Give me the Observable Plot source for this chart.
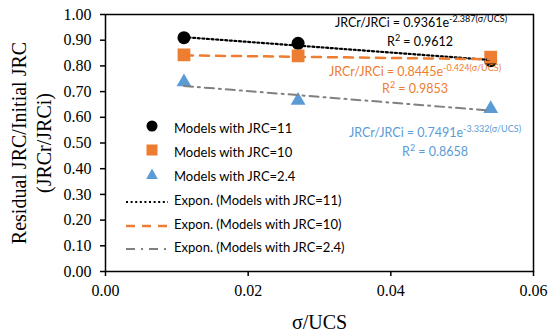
<!DOCTYPE html>
<html>
<head>
<meta charset="utf-8">
<script src="https://cdn.jsdelivr.net/npm/d3@7"></script>
<script src="https://cdn.jsdelivr.net/npm/@observablehq/plot@0.6"></script>
<style>
  body { margin: 0; background: #fff; }
  #wrap { position: relative; width: 551px; height: 332px; overflow: hidden; }
  .ann { position: absolute; transform: translate(-50%, -50%); white-space: nowrap; font-family: Lato, "Open Sans", sans-serif; font-size: 12.5px; line-height: 1; }
  .ann sup { font-size: 9px; vertical-align: 5px; line-height: 0; }
  .leg { position: absolute; white-space: nowrap; font-family: Lato, "Open Sans", sans-serif; font-size: 13px; color: #000; line-height: 1; transform: translateY(-50%); }
  .legsym { position: absolute; transform: translateY(-50%); }
</style>
</head>
<body>
<div id="wrap"></div>
<script>
// ---- data ----
const xTicks = [0, 0.02, 0.04, 0.06];
const yTicks = [0, 0.1, 0.2, 0.3, 0.4, 0.5, 0.6, 0.7, 0.8, 0.9, 1.0];
const sigmaUCS = [0.011, 0.027, 0.054];
const jrc11 = [0.91, 0.888, 0.82];
const jrc10 = [0.843, 0.839, 0.834];
const jrc24 = [0.737, 0.665, 0.633];
const trendX = [0.011, 0.054];
const trend11 = [0.912, 0.823];
const trend10 = [0.841, 0.826];
const trend24 = [0.722, 0.626];
const seriesNames = ["Models with JRC=11", "Models with JRC=10", "Models with JRC=2.4"];
const trendNames = ["Expon. (Models with JRC=11)", "Expon. (Models with JRC=10)", "Expon. (Models with JRC=2.4)"];
const fitA = ["0.9361", "0.8445", "0.7491"];
const fitB = ["-2.387", "-0.424", "-3.332"];
const fitR2 = ["0.9612", "0.9853", "0.8658"];
const xLabel = "σ/UCS";
const yLabel = "Residual JRC/Initial JRC\n(JRCr/JRCi)";

// ---- styles ----
const SERIF = "'Liberation Serif', 'Times New Roman', serif";
const BLACK = "#000000", ORANGE = "#ED7D31", BLUE = "#5B9BD5", GRAY = "#808080";
const fmt = d3.format(".2f");

const pts = (ys) => sigmaUCS.map((x, i) => ({x, y: ys[i]}));
const tr = (ys) => trendX.map((x, i) => ({x, y: ys[i]}));

const chart = Plot.plot({
  width: 551,
  height: 332,
  marginLeft: 105,
  marginRight: 18,
  marginTop: 14,
  marginBottom: 61,
  style: {fontFamily: SERIF, fontSize: "16px", background: "white", color: "black"},
  x: {domain: [0, 0.06]},
  y: {domain: [0, 1]},
  marks: [
    Plot.axisX({ticks: xTicks, tickFormat: fmt, tickSize: 5, tickPadding: 8, label: null, fontSize: 16, fontFamily: SERIF, strokeWidth: 1.5}),
    Plot.axisY({ticks: yTicks, tickFormat: fmt, tickSize: 5, tickPadding: 9, label: null, fontSize: 16, fontFamily: SERIF, strokeWidth: 1.5}),
    Plot.frame({stroke: BLACK, strokeWidth: 1.5}),
    Plot.text([xLabel], {frameAnchor: "bottom", lineAnchor: "middle", dy: 51, text: d => d, fontSize: 20, fontFamily: SERIF}),
    Plot.text([yLabel], {frameAnchor: "left", textAnchor: "middle", lineAnchor: "middle", rotate: -90, dx: -75, text: d => d, fontSize: 20, lineHeight: 1.25, fontFamily: SERIF}),
    Plot.dot(pts(jrc11), {x: "x", y: "y", symbol: "circle", r: 6.5, fill: BLACK}),
    Plot.dot(pts(jrc10), {x: "x", y: "y", symbol: "square", r: 7.2, fill: ORANGE}),
    Plot.dot(pts(jrc24), {x: "x", y: "y", symbol: "triangle", r: 5.5, fill: BLUE}),
    Plot.line(tr(trend11), {x: "x", y: "y", stroke: BLACK, strokeWidth: 2.2, strokeDasharray: "2,2.6"}),
    Plot.line(tr(trend10), {x: "x", y: "y", stroke: ORANGE, strokeWidth: 2.5, strokeDasharray: "9,7"}),
    Plot.line(tr(trend24), {x: "x", y: "y", stroke: GRAY, strokeWidth: 2, strokeDasharray: "9,5,2,5"})
  ]
});
const wrap = document.getElementById("wrap");
wrap.appendChild(chart);

// ---- annotations (fitted equations) ----
const annColors = [BLACK, ORANGE, BLUE];
const annPos = [[421, 23, 420, 42], [415, 72, 415, 89], [435, 133, 435, 152]];
fitA.forEach((a, i) => {
  const [ex, ey, rx, ry] = annPos[i];
  const e = document.createElement("div");
  e.className = "ann";
  e.style.left = ex + "px"; e.style.top = ey + "px"; e.style.color = annColors[i];
  e.innerHTML = `JRCr/JRCi = ${a}e<sup>${fitB[i]}(σ/UCS)</sup>`;
  wrap.appendChild(e);
  const r = document.createElement("div");
  r.className = "ann";
  r.style.left = rx + "px"; r.style.top = ry + "px"; r.style.color = annColors[i];
  r.innerHTML = `R<sup>2</sup> = ${fitR2[i]}`;
  wrap.appendChild(r);
});

// ---- legend ----
const legRows = [128, 152, 176, 200, 223.5, 247];
const symSvgs = [
  `<svg width="14" height="14"><circle cx="7" cy="7" r="5.5" fill="${BLACK}"/></svg>`,
  `<svg width="14" height="14"><rect x="1.5" y="1.5" width="11" height="11" fill="${ORANGE}"/></svg>`,
  `<svg width="14" height="14"><path d="M7,1.5 L12.8,12 L1.2,12 Z" fill="${BLUE}"/></svg>`
];
const lineSvgs = [
  `<svg width="44" height="6"><line x1="1" y1="3" x2="43" y2="3" stroke="${BLACK}" stroke-width="2" stroke-dasharray="2,2.6"/></svg>`,
  `<svg width="44" height="6"><line x1="1" y1="3" x2="43" y2="3" stroke="${ORANGE}" stroke-width="2.5" stroke-dasharray="9,7"/></svg>`,
  `<svg width="44" height="6"><line x1="1" y1="3" x2="43" y2="3" stroke="${GRAY}" stroke-width="2" stroke-dasharray="9,6,2,6"/></svg>`
];
const legLabels = seriesNames.concat(trendNames);
legLabels.forEach((lab, i) => {
  const s = document.createElement("div");
  s.className = "legsym";
  s.style.top = legRows[i] + "px";
  s.style.left = (i < 3 ? 145 : 125) + "px";
  s.innerHTML = i < 3 ? symSvgs[i] : lineSvgs[i - 3];
  wrap.appendChild(s);
  const t = document.createElement("div");
  t.className = "leg";
  t.style.top = legRows[i] + "px";
  t.style.left = "174px";
  t.textContent = lab;
  wrap.appendChild(t);
});
</script>
</body>
</html>
